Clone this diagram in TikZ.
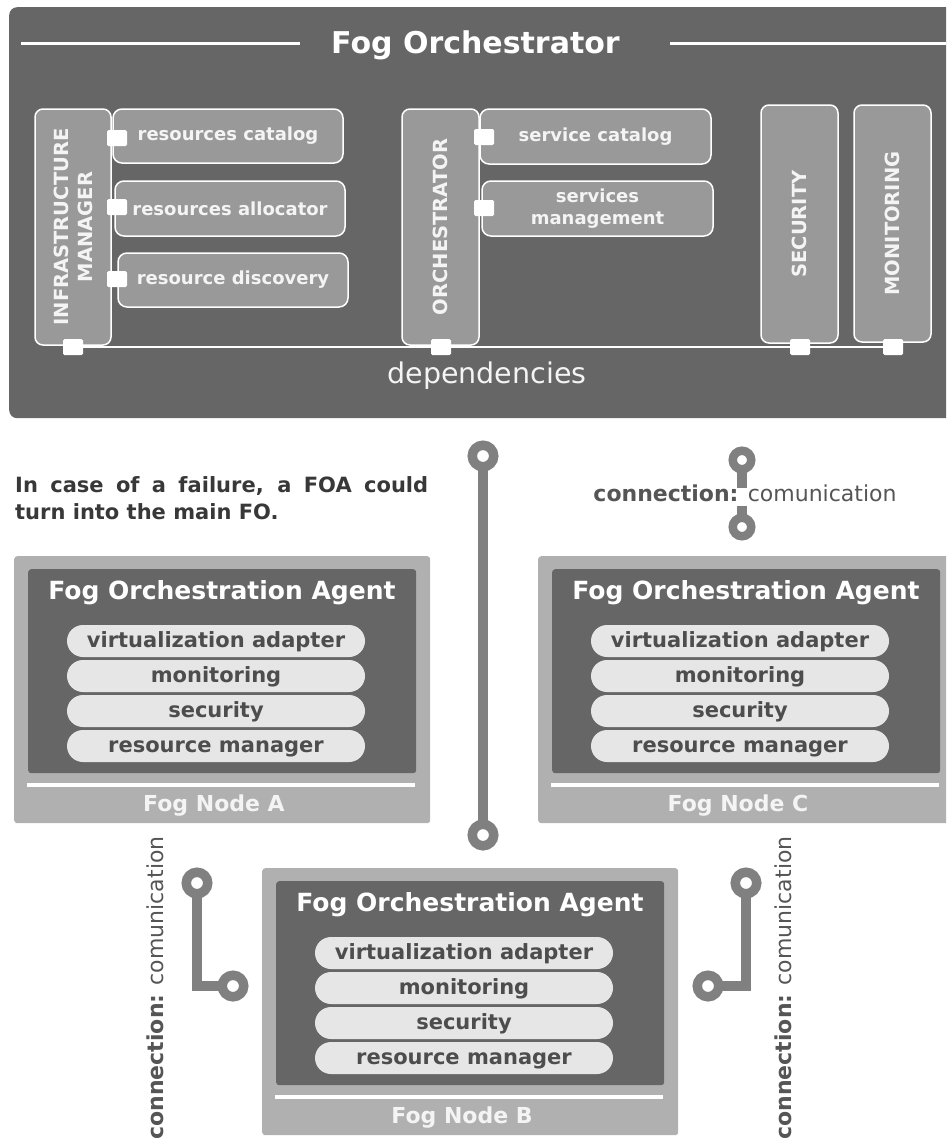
\documentclass[tikz,border=0pt]{standalone}
\usepackage{fontspec}
\setmainfont{DejaVu Sans}
\newcommand\fsz[2]{\fontsize{#1pt}{#2pt}\selectfont}

\definecolor{fodark}{HTML}{666666}
\definecolor{fobox}{HTML}{999999}
\definecolor{nodegray}{HTML}{B0B0B0}
\definecolor{pill}{HTML}{E6E6E6}
\definecolor{pilltext}{HTML}{4D4D4D}
\definecolor{wire}{HTML}{808080}
\definecolor{captext}{HTML}{383838}
\definecolor{conntext}{HTML}{555555}
\definecolor{lighttext}{HTML}{F4F4F4}

% One fog node: #1 name prefix, #2 left, #3 top, #4 caption
\newcommand\fognode[4]{%
  \node[nodebox, anchor=north west, minimum width=416pt, minimum height=267pt] (#1) at (#2,#3) {};
  \node[agentbox, anchor=north west, minimum width=388pt, minimum height=204pt] (#1in) at (#2+14,#3+13) {};
  \node[agenttitle] (#1t) at (#2+208,#3+37) {Fog Orchestration Agent};
  \node[pillbox] (#1p1) at (#2+202,#3+85) {virtualization adapter};
  \node[pillbox] (#1p2) at (#2+202,#3+120) {monitoring};
  \node[pillbox] (#1p3) at (#2+202,#3+155) {security};
  \node[pillbox] (#1p4) at (#2+202,#3+190) {resource manager};
  \coordinate (#1r1) at (#2+13,#3+229);
  \coordinate (#1r2) at (#2+401,#3+229);
  \draw[sepline] (#1r1) -- (#1r2);
  \node[nodelabel] (#1l) at (#2+200,#3+250) {#4};
}

\begin{document}
\begin{tikzpicture}[x=1pt,y=-1pt,
  fopanel/.style={fill=fodark, rounded corners=8pt, inner sep=0pt},
  modbox/.style={draw=white, line width=1.5pt, fill=fobox, rounded corners=9pt,
    inner sep=0pt, text=lighttext, font=\bfseries\fsz{18}{22}, align=center},
  vmod/.style={modbox, rotate=90, rounded corners=8pt, font=\bfseries\fsz{19.5}{24}},
  port/.style={fill=white, rounded corners=1.5pt, minimum width=20pt,
    minimum height=16pt, inner sep=0pt},
  deps/.style={draw=white, line width=2.5pt},
  titleline/.style={draw=white, line width=3pt},
  ring/.style={circle, draw=wire, fill=white, line width=9.5pt,
    minimum size=21.5pt, inner sep=0pt, outer sep=0pt},
  smallring/.style={ring, line width=8.5pt, minimum size=18.5pt},
  wirel/.style={draw=wire, line width=9.5pt},
  nodebox/.style={fill=nodegray, rounded corners=3pt, inner sep=0pt},
  agentbox/.style={fill=fodark, rounded corners=3pt, inner sep=0pt},
  agenttitle/.style={text=white, font=\bfseries\fsz{25}{30}, inner sep=0pt,
    text height=19pt, text depth=6pt},
  pillbox/.style={fill=pill, rounded corners=16pt, minimum width=298pt,
    minimum height=32pt, inner sep=0pt, text=pilltext,
    font=\bfseries\fsz{21}{25}, text height=17pt, text depth=4pt},
  sepline/.style={draw=white, line width=4pt},
  nodelabel/.style={text=lighttext, font=\bfseries\fsz{22}{26}, inner sep=0pt},
  conn/.style={text=conntext, font=\fsz{22}{26}, inner sep=0pt}
]
\useasboundingbox (0,0) rectangle (946,1138);
\clip (0,0) rectangle (946,1138);

% ---------- Fog Orchestrator panel ----------
\node[fopanel, anchor=north west, minimum width=951pt, minimum height=411pt] (fo) at (9,7) {};
\node[text=white, font=\bfseries\fsz{30}{36}, inner sep=0pt] (fotitle) at (475.5,45) {Fog Orchestrator};
\coordinate (tl1) at (21,43);  \coordinate (tl2) at (300,43);
\coordinate (tr1) at (670,43); \coordinate (tr2) at (960,43);
\draw[titleline] (tl1) -- (tl2);
\draw[titleline] (tr1) -- (tr2);

% vertical modules
\node[vmod, minimum width=236pt, minimum height=76pt] (im) at (73,227) {INFRASTRUCTURE\\MANAGER};
\node[vmod, minimum width=236pt, minimum height=77pt] (orch) at (440.5,227) {ORCHESTRATOR};
\node[vmod, minimum width=238pt, minimum height=77pt] (sec) at (799.5,224) {SECURITY};
\node[vmod, minimum width=237pt, minimum height=77pt] (mon) at (892.5,223.5) {MONITORING};

% sub-modules
\node[modbox, minimum width=230pt, minimum height=54pt] (rc) at (228,136) {resources catalog};
\node[modbox, minimum width=230pt, minimum height=55pt] (ra) at (230,208.5) {resources allocator};
\node[modbox, minimum width=230pt, minimum height=54pt] (rd) at (233,280) {resource discovery};
\node[modbox, minimum width=231pt, minimum height=55pt] (sc) at (595.5,136.5) {service catalog};
\node[modbox, minimum width=231pt, minimum height=55pt] (sm) at (597.5,208.5) {services\\management};

% ports
\node[port] (prc) at (117,138) {};
\node[port] (pra) at (117,207) {};
\node[port] (prd) at (117,279) {};
\node[port] (psc) at (484,137) {};
\node[port] (psm) at (484,208) {};
\node[port] (pim) at (73,347) {};
\node[port] (por) at (441,347) {};
\node[port] (pse) at (800,347) {};
\node[port] (pmo) at (893,347) {};
\draw[deps] (pim) -- (por) -- (pse) -- (pmo);
\node[text=lighttext, font=\fsz{28.5}{34}, inner sep=0pt] (dep) at (487,375.5) {dependencies};

% ---------- notes and links ----------
\node[anchor=north west, text width=413pt, align=justify, inner sep=0pt,
  text=captext, font=\bfseries\fsz{21}{27}] (note) at (15,476)
  {In case of a failure, a FOA could turn into the main FO.};

% main link from the orchestrator down to node B
\node[ring] (mtop) at (483,456) {};
\node[ring] (mbot) at (483,835) {};
\draw[wirel] (mtop) -- (mbot);

% link towards node C
\node[smallring] (ct1) at (742,460) {};
\node[smallring] (ct2) at (742,527) {};
\coordinate (cs1) at (742,488);
\coordinate (cs2) at (742,506);
\draw[wirel] (ct1) -- (cs1);
\draw[wirel] (cs2) -- (ct2);
\node[conn] (clabel) at (745,493.5) {\textbf{connection:} comunication};

% links A-B and C-B
\node[ring] (lt) at (197,883) {};
\node[ring] (lb) at (233,986) {};
\draw[wirel] (lt) |- (lb);
\node[ring] (rt) at (746,883) {};
\node[ring] (rb) at (708,986) {};
\draw[wirel] (rt) |- (rb);
\node[conn, rotate=90] (llabel) at (155.5,988) {\textbf{connection:} comunication};
\node[conn, rotate=90] (rlabel) at (783,988) {\textbf{connection:} comunication};

% ---------- fog nodes ----------
\fognode{na}{14}{556}{Fog Node A}
\fognode{nc}{538}{556}{Fog Node C}
\fognode{nb}{262}{868}{Fog Node B}

\end{tikzpicture}
\end{document}
